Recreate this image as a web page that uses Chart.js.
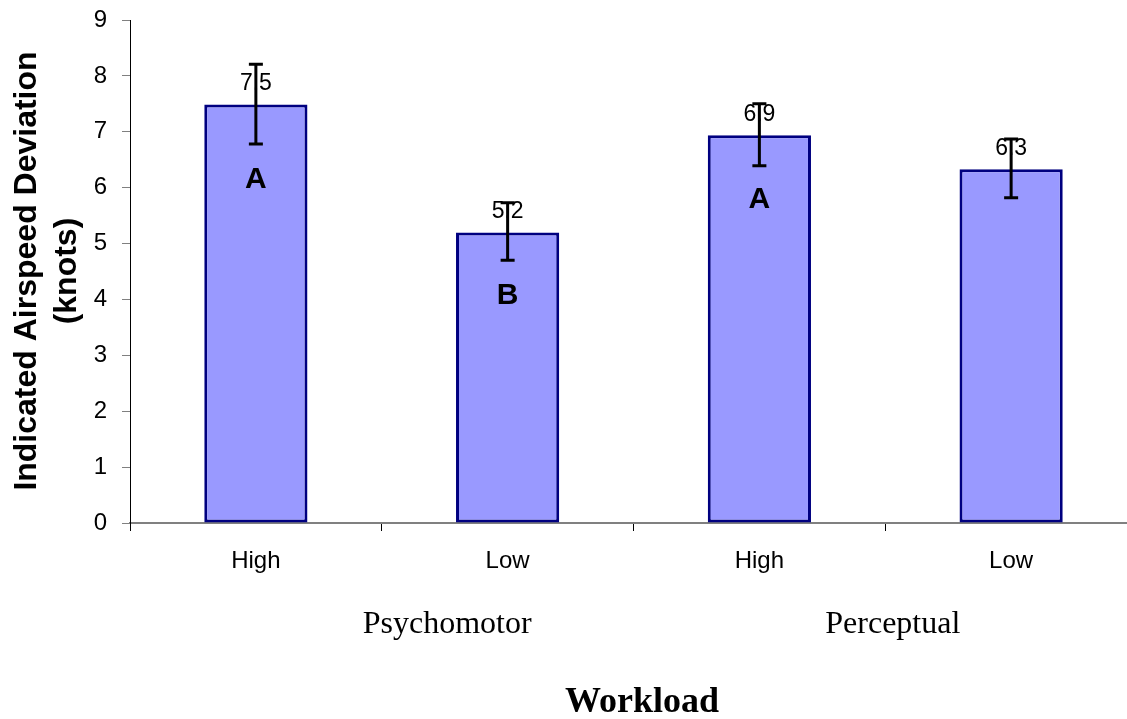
<!DOCTYPE html>
<html>
<head>
<meta charset="utf-8">
<script src="https://cdn.jsdelivr.net/npm/chart.js@4/dist/chart.umd.min.js"></script>
<style>
  html, body { margin: 0; padding: 0; background: #fff; overflow: hidden; }
  #wrap { width: 1150px; height: 719px; }
</style>
</head>
<body>
<div id="wrap"><canvas id="chart" width="1150" height="719"></canvas></div>
<script>
// data
const categories = ["High", "Low", "High", "Low"];
const groups = ["Psychomotor", "Perceptual"];
const means = [7.49, 5.2, 6.94, 6.33];
const errLow = [6.78, 4.7, 6.39, 5.82];
const errHigh = [8.21, 5.73, 7.5, 6.87];
const letters = ["A", "B", "A", ""];
const letterAt = [6.15, 4.06, 5.79, null];
const yTicks = [0, 1, 2, 3, 4, 5, 6, 7, 8, 9];

const SANS = "Arial, 'Liberation Sans', sans-serif";
const SERIF = "'Times New Roman', 'Liberation Serif', serif";

const annotations = {
  id: "annotations",
  afterDatasetsDraw(chart) {
    const { ctx, scales } = chart;
    const x = scales.x, y = scales.y;
    const bars = chart.getDatasetMeta(0).data;
    ctx.save();

    // value labels above bars
    ctx.fillStyle = "#000";
    ctx.font = `23px ${SANS}`;
    ctx.textAlign = "center";
    ctx.textBaseline = "alphabetic";
    bars.forEach((bar, i) => {
      ctx.fillText(means[i].toFixed(1), bar.x, bar.y - 14);
    });

    // significance letters
    ctx.font = `bold 30px ${SANS}`;
    ctx.textBaseline = "middle";
    bars.forEach((bar, i) => {
      if (letters[i]) ctx.fillText(letters[i], bar.x, y.getPixelForValue(letterAt[i]));
    });

    // error bars
    ctx.strokeStyle = "#000";
    ctx.lineWidth = 3;
    bars.forEach((bar, i) => {
      const lo = y.getPixelForValue(errLow[i]);
      const hi = y.getPixelForValue(errHigh[i]);
      ctx.beginPath();
      ctx.moveTo(bar.x, lo);
      ctx.lineTo(bar.x, hi);
      ctx.moveTo(bar.x - 7, lo);
      ctx.lineTo(bar.x + 7, lo);
      ctx.moveTo(bar.x - 7, hi);
      ctx.lineTo(bar.x + 7, hi);
      ctx.stroke();
    });

    // group labels and axis titles
    ctx.font = `32px ${SERIF}`;
    ctx.textBaseline = "alphabetic";
    ctx.fillText(groups[0], x.getPixelForValue(0.76), 633);
    ctx.fillText(groups[1], x.getPixelForValue(2.53), 633);

    ctx.font = `bold 36px ${SERIF}`;
    ctx.fillText("Workload", 642, 712);

    ctx.font = `bold 32px ${SANS}`;
    ctx.translate(36, 271);
    ctx.rotate(-Math.PI / 2);
    ctx.fillText("Indicated Airspeed Deviation", 0, 0);
    ctx.fillText("(knots)", 0, 39.5);
    ctx.restore();
  },
};

new Chart(document.getElementById("chart"), {
  type: "bar",
  data: {
    labels: categories,
    datasets: [
      {
        data: means,
        backgroundColor: "#9999FF",
        borderColor: "#000080",
        borderWidth: 3,
        borderSkipped: false,
        barPercentage: 0.41,
        categoryPercentage: 1,
      },
    ],
  },
  options: {
    responsive: false,
    animation: false,
    layout: { padding: { top: 20, right: 13, bottom: 0, left: 0 } },
    plugins: { legend: { display: false }, tooltip: { enabled: false } },
    scales: {
      x: {
        grid: {
          offset: true,
          drawOnChartArea: false,
          tickLength: 8,
          color: "#000",
        },
        border: { color: "#808080", width: 2 },
        ticks: { color: "#000", font: { family: SANS, size: 24 }, padding: 16 },
        afterFit(scale) {
          scale.height = 196;
        },
      },
      y: {
        min: 0,
        max: 9,
        afterBuildTicks(scale) {
          scale.ticks = yTicks.map((v) => ({ value: v }));
        },
        grid: { drawOnChartArea: false, tickLength: 8, color: "#808080" },
        border: { color: "#000", width: 1 },
        ticks: { color: "#000", font: { family: SANS, size: 24 }, padding: 15 },
        afterFit(scale) {
          scale.width = 130;
          scale.paddingTop = 0;
          scale.paddingBottom = 0;
        },
      },
    },
  },
  plugins: [annotations],
});
</script>
</body>
</html>
